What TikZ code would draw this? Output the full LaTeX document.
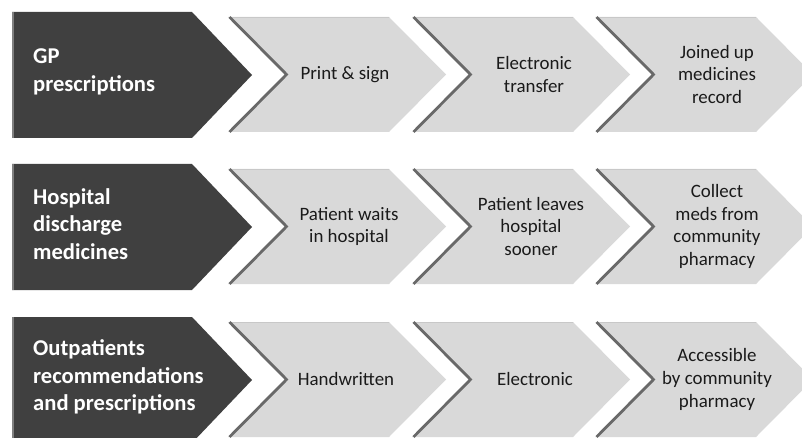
\documentclass[tikz,border=0pt]{standalone}
\usepackage{fontspec}
\setmainfont{Carlito}
\definecolor{darkfill}{HTML}{404040}
\definecolor{darkedge}{HTML}{808080}
\definecolor{lightfill}{HTML}{D9D9D9}
\definecolor{notchline}{HTML}{696969}
\definecolor{topline}{HTML}{C8C8C8}
\definecolor{steptxt}{HTML}{1A1A1A}
\begin{document}
\begin{tikzpicture}[x=1pt,y=-1pt,
  headtext/.style={text=white, font=\fontsize{22.6}{27.3}\selectfont\bfseries, align=left, anchor=west, inner sep=0pt},
  steptext/.style={text=steptxt, font=\fontsize{18.9}{22.6}\selectfont, align=center, inner sep=0pt},
  headshape/.style={fill=darkfill},
  headedge/.style={draw=darkedge, line width=2pt},
  stepshape/.style={fill=lightfill},
  stepedge/.style={draw=topline, line width=0.8pt},
  notchedge/.style={draw=notchline, line width=2.8pt, line join=miter},
]
\useasboundingbox (0,0) rectangle (802,438);
\begin{scope}
\clip (0,0) rectangle (802,438);
\foreach \T in {12,164,317}{
  \path[headshape] (12,\T) -- (192,\T) -- (252,\T+63) -- (192,\T+126) -- (12,\T+126) -- cycle;
  \draw[headedge] (13,\T) -- (13,\T+126);
  \foreach \L in {228,412,595}{
    \path[stepshape] (\L,\T+5) -- (\L+161,\T+5) -- (\L+218,\T+62.5) -- (\L+161,\T+120) -- (\L,\T+120) -- (\L+57,\T+62.5) -- cycle;
    \draw[stepedge] (\L+1,\T+5.4) -- (\L+161,\T+5.4);
    \draw[notchedge] (\L+1.5,\T+5) -- (\L+58.5,\T+62.5) -- (\L+1.5,\T+120);
  }
}
\end{scope}
% row 1
\node[headtext] (h1) at (33,72) {GP\\prescriptions};
\node[steptext] (s11) at (345,74.5) {Print \& sign};
\node[steptext] (s12) at (534,74.5) {Electronic\\transfer};
\node[steptext] (s13) at (717,74.5) {Joined up\\medicines\\record};
% row 2
\node[headtext] (h2) at (33,224) {Hospital\\discharge\\medicines};
\node[steptext] (s21) at (349,226.5) {Patient waits\\in hospital};
\node[steptext] (s22) at (531,226.5) {Patient leaves\\hospital\\sooner};
\node[steptext] (s23) at (717,226.5) {Collect\\meds from\\community\\pharmacy};
% row 3
\node[headtext] (h3) at (33,377) {Outpatients\\recommendations\\and prescriptions};
\node[steptext] (s31) at (346,379.5) {Handwritten};
\node[steptext] (s32) at (535,379.5) {Electronic};
\node[steptext] (s33) at (717,379.5) {Accessible\\by community\\pharmacy};
\end{tikzpicture}
\end{document}
